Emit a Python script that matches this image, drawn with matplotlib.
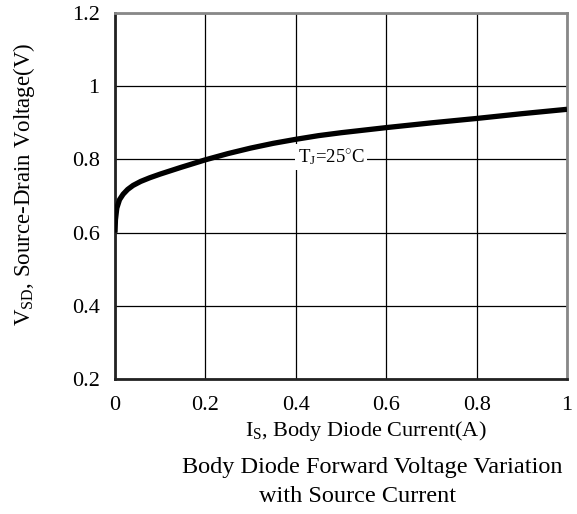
import matplotlib
matplotlib.use("Agg")
import matplotlib.pyplot as plt

plt.rcParams["font.family"] = ["Liberation Serif", "DejaVu Serif"]
plt.rcParams["mathtext.fontset"] = "custom"
plt.rcParams["mathtext.rm"] = "Liberation Serif"
plt.rcParams["mathtext.it"] = "Liberation Serif:italic"

# ── Data ────────────────────────────────────────────────────────
current = [0, 0.001, 0.004, 0.01, 0.018, 0.028, 0.04, 0.057, 0.077, 0.1,
           0.12, 0.145, 0.166, 0.2, 0.25, 0.3, 0.35, 0.4, 0.45, 0.5,
           0.6, 0.7, 0.8, 0.9, 1.0]
voltage = [0.6, 0.635, 0.667, 0.69, 0.705, 0.718, 0.729, 0.740, 0.750, 0.760,
           0.768, 0.778, 0.786, 0.799, 0.816, 0.831, 0.844, 0.855, 0.865, 0.873,
           0.887, 0.900, 0.912, 0.925, 0.937]

x_ticks = [0, 0.2, 0.4, 0.6, 0.8, 1]
x_tick_labels = ["0", "0.2", "0.4", "0.6", "0.8", "1"]
y_ticks = [0.2, 0.4, 0.6, 0.8, 1.0, 1.2]
y_tick_labels = ["0.2", "0.4", "0.6", "0.8", "1", "1.2"]

fig = plt.figure(figsize=(5.77, 5.14), dpi=100, facecolor="white")
ax = fig.add_axes([0.1993, 0.2626, 0.7834, 0.712])

ax.plot(current, voltage, color="black", lw=3.8,
        solid_capstyle="butt", solid_joinstyle="round", zorder=3)

ax.set_xlim(0, 1)
ax.set_ylim(0.2, 1.2)
ax.set_xticks(x_ticks)
ax.set_xticklabels(x_tick_labels)
ax.set_yticks(y_ticks)
ax.set_yticklabels(y_tick_labels)
ax.tick_params(length=0, labelsize=16)
ax.tick_params(axis="x", pad=12)
ax.tick_params(axis="y", pad=11)
ax.grid(True, color="black", lw=0.9)

for side in ["left", "bottom"]:
    ax.spines[side].set_linewidth(2.0)
    ax.spines[side].set_color("#222222")
for side in ["top", "right"]:
    ax.spines[side].set_linewidth(2.0)
    ax.spines[side].set_color("#888888")

# temperature label sitting on the 0.8 gridline
ax.text(0.478, 0.807, r"T$_{\mathrm{J}}$=25$^{\circ}$C", fontsize=13.5,
        ha="center", va="center", zorder=4,
        bbox=dict(facecolor="white", edgecolor="none", pad=2))

fig.text(24 / 577, 1 - 184 / 514,
         r"V$_{\mathrm{SD}}$, Source-Drain Voltage(V)", fontsize=16.5,
         rotation=90, ha="center", va="center")

fig.text(366 / 577, 1 - 431 / 514, r"I$_{\mathrm{S}}$, Body Diode Current(A)",
         fontsize=16, ha="center", va="center")
fig.text(372 / 577, 1 - 467 / 514, "Body Diode Forward Voltage Variation",
         fontsize=17.5, ha="center", va="center")
fig.text(358 / 577, 1 - 496 / 514, "with Source Current",
         fontsize=17.5, ha="center", va="center")

plt.savefig("out.png", dpi=100, facecolor="white")
